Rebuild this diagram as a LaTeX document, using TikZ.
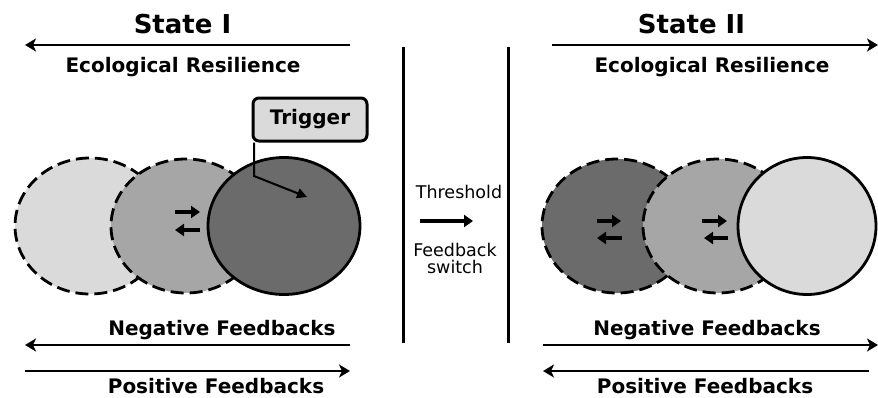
\documentclass[tikz,border=0pt]{standalone}
\usepackage{fontspec}
\setmainfont{DejaVu Sans}
\usetikzlibrary{arrows.meta}
\definecolor{paleGray}{HTML}{DADADA}
\definecolor{midGray}{HTML}{A6A6A6}
\definecolor{deepGray}{HTML}{6B6B6B}
\tikzset{
  statetitle/.style={font=\fontsize{26}{30}\selectfont\bfseries, anchor=base, inner sep=0pt},
  axistext/.style={font=\fontsize{20}{24}\selectfont\bfseries, anchor=base, inner sep=0pt},
  switchtext/.style={font=\fontsize{17.5}{17}\selectfont, align=center, inner sep=0pt},
  axis/.style={line width=2.8pt, -{Stealth[length=11pt,width=13pt,inset=3pt]}},
  pushpull/.style={line width=4pt, -{Triangle[length=9pt,width=12pt]}},
  dashring/.style={line width=2.8pt, dash pattern=on 13pt off 6pt},
  ring/.style={line width=2.8pt},
  wall/.style={line width=3pt}
}
\begin{document}
\begin{tikzpicture}[x=1pt,y=-1pt]
  \useasboundingbox (0,0) rectangle (878,397);
  % circle centres
  \coordinate (I1) at (90,226);
  \coordinate (I2) at (186,226);
  \coordinate (I3) at (284,226);
  \coordinate (J1) at (617,226);
  \coordinate (J2) at (718,226);
  \coordinate (J3) at (807,226);

  % State I
  \node[statetitle] (titleI) at (182.5,33) {State I};
  \node[axistext] (resI) at (183,72) {Ecological Resilience};
  \node[axistext] (negI) at (222,335) {Negative Feedbacks};
  \node[axistext] (posI) at (216,393.5) {Positive Feedbacks};
  \coordinate (aI1) at (350,45);  \coordinate (bI1) at (25,45);
  \coordinate (aI2) at (350,345); \coordinate (bI2) at (25,345);
  \coordinate (aI3) at (25,371);  \coordinate (bI3) at (350,371);
  \draw[axis] (aI1) -- (bI1);
  \draw[axis] (aI2) -- (bI2);
  \draw[axis] (aI3) -- (bI3);

  \draw[dashring, fill=paleGray] (I1) ellipse [x radius=75, y radius=68];
  \draw[dashring, fill=midGray] (I2) ellipse [x radius=75, y radius=67];
  \draw[ring, fill=deepGray] (I3) ellipse [x radius=76, y radius=68.5];
  \draw[pushpull] (175,212) -- (200,212);
  \draw[pushpull] (200,230) -- (175,230);

  \node[draw, line width=3pt, rounded corners=6pt, fill=paleGray,
        minimum width=114pt, minimum height=43pt,
        font=\fontsize{20}{24}\selectfont\bfseries] (trigger) at (310,119.5) {Trigger};
  \coordinate (kink) at (254,176);
  \coordinate (hit) at (307,197);
  \draw[line width=2pt, -{Triangle[length=10pt,width=10pt]}]
        (trigger.south -| kink) -- (kink) -- (hit);

  % threshold
  \coordinate (wallAtop) at (403,47); \coordinate (wallAbot) at (403,343);
  \coordinate (wallBtop) at (508,47); \coordinate (wallBbot) at (508,343);
  \draw[wall] (wallAtop) -- (wallAbot);
  \draw[wall] (wallBtop) -- (wallBbot);
  \node[switchtext] (thresh) at (459,192) {Threshold};
  \node[switchtext] (fswitch) at (455,258) {Feedback\\switch};
  \draw[pushpull] (420,221) -- (473,221);

  % State II
  \node[statetitle] (titleII) at (691.5,33) {State II};
  \node[axistext] (resII) at (712,72) {Ecological Resilience};
  \node[axistext] (negII) at (707,335) {Negative Feedbacks};
  \node[axistext] (posII) at (705,393.5) {Positive Feedbacks};
  \coordinate (aJ1) at (552,45);  \coordinate (bJ1) at (878,45);
  \coordinate (aJ2) at (543,345); \coordinate (bJ2) at (878,345);
  \coordinate (aJ3) at (869,371); \coordinate (bJ3) at (543,371);
  \draw[axis] (aJ1) -- (bJ1);
  \draw[axis] (aJ2) -- (bJ2);
  \draw[axis] (aJ3) -- (bJ3);

  \draw[dashring, fill=deepGray] (J1) ellipse [x radius=75, y radius=67];
  \draw[dashring, fill=midGray] (J2) ellipse [x radius=75, y radius=67];
  \draw[ring, fill=paleGray] (J3) ellipse [x radius=69, y radius=68.5];
  \draw[pushpull] (597,221) -- (621,221);
  \draw[pushpull] (622,238) -- (597,238);
  \draw[pushpull] (702,221) -- (727,221);
  \draw[pushpull] (728,238) -- (704,238);
\end{tikzpicture}
\end{document}
